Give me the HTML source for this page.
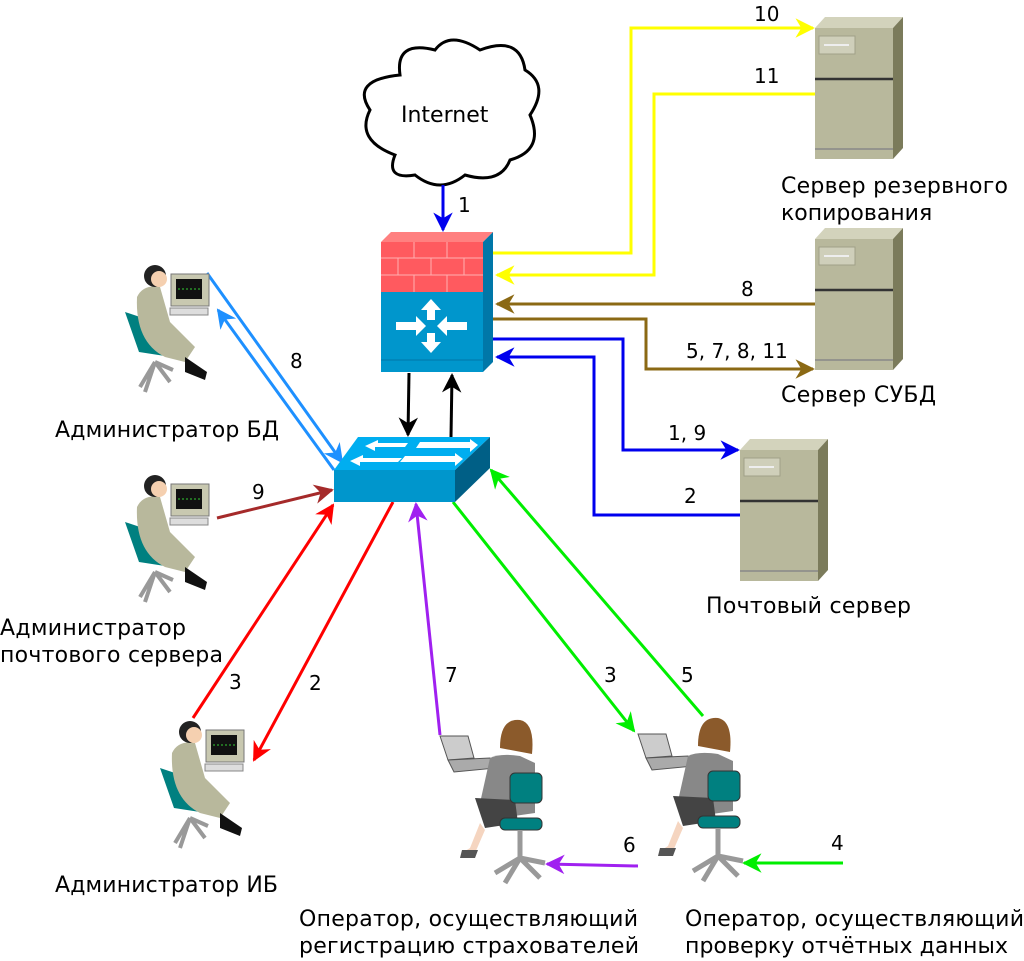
<!DOCTYPE html>
<html><head><meta charset="utf-8"><style>
html,body{margin:0;padding:0;background:#fff}
svg{display:block}
text{font-family:"DejaVu Sans","Liberation Sans",sans-serif;font-size:20px;fill:#000}
text.l{font-size:22px}
</style></head><body>
<svg width="1024" height="961" viewBox="0 0 1024 961" xmlns="http://www.w3.org/2000/svg">
<defs>
<g id="srv">
<polygon points="0,11 10,0 88,0 78,11" fill="#d3d3bc"/>
<polygon points="78,11 88,0 88,131 78,142" fill="#7b7b5b"/>
<rect x="0" y="11" width="78" height="131" fill="#b8b89c"/>
<rect x="4" y="19" width="36" height="18" fill="#cfcfba" stroke="#a0a088"/>
<line x1="9" y1="28" x2="34" y2="28" stroke="#eee" stroke-width="2"/>
<line x1="0" y1="62" x2="78" y2="62" stroke="#333" stroke-width="2.5"/>
<line x1="0" y1="132" x2="78" y2="132" stroke="#888" stroke-width="1.5"/>
</g>
<g id="man">
<polygon points="0,50 14,90 40,94 30,60" fill="#008080"/>
<path d="M30,100 L15,125 M30,100 L45,120 M30,100 L20,130 M30,100 L48,108" stroke="#999" stroke-width="4" fill="none"/>
<path d="M12,35 Q18,22 35,25 L45,60 L60,75 L70,85 L60,100 L40,95 Q10,80 12,35Z" fill="#b8b89c"/>
<circle cx="30" cy="14" r="11" fill="#222"/>
<circle cx="34" cy="17" r="8" fill="#f5d0b0"/>
<rect x="46" y="12" width="38" height="32" fill="#c8c8b0" stroke="#777"/>
<rect x="51" y="17" width="26" height="20" fill="#111"/>
<line x1="53" y1="27" x2="75" y2="27" stroke="#3c3" stroke-dasharray="2,2"/>
<path d="M60,95 L82,110 L80,118 L60,110Z" fill="#111"/>
<rect x="45" y="46" width="38" height="7" fill="#ddd" stroke="#888"/>
</g>
<g id="woman">
<path d="M0,18 L28,18 L34,40 L8,42Z" fill="#ccc" stroke="#555"/>
<polygon points="8,42 50,40 56,50 14,54" fill="#aaa" stroke="#555"/>
<path d="M60,30 Q60,0 80,2 Q95,5 92,36 Z" fill="#8b5a2b"/>
<path d="M50,40 Q60,35 80,38 L95,45 L95,95 L60,100 L40,85 Z" fill="#888"/>
<path d="M35,80 L75,82 L78,105 L45,110Z" fill="#444"/>
<path d="M40,105 L30,130 L22,135 L35,135 L45,112Z" fill="#f5d5c0"/>
<path d="M22,132 L38,132 L35,140 L20,140Z" fill="#555"/>
<rect x="70" y="55" width="32" height="30" rx="5" fill="#008080" stroke="#333"/>
<rect x="60" y="100" width="42" height="12" rx="5" fill="#008080" stroke="#333"/>
<path d="M80,112 L80,140 M80,140 L55,155 M80,140 L100,160 M80,140 L65,165 M80,140 L105,145" stroke="#999" stroke-width="5" fill="none"/>
</g>
<marker id="a" viewBox="0 0 10 10" refX="9" refY="5" markerWidth="6.5" markerHeight="6.5" orient="auto" markerUnits="strokeWidth"><path d="M0,0 L10,5 L0,10 L3,5Z" fill="context-stroke"/></marker>
</defs>

<path d="M400,75 Q395,40 435,50 Q450,30 480,50 Q520,35 525,70 Q550,85 530,115 Q545,150 510,160 Q500,185 465,175 Q440,195 415,175 Q385,180 395,155 Q355,140 370,110 Q350,80 400,75Z" fill="#fff" stroke="#000" stroke-width="3"/>
<text class="l" x="401" y="122">Internet</text>

<g fill="none" stroke-width="3">
<path d="M443,185 L443,230" stroke="#0000ee" marker-end="url(#a)"/>
<path d="M409,373 L408,435" stroke="#000" marker-end="url(#a)"/>
<path d="M451,437 L452,375" stroke="#000" marker-end="url(#a)"/>
<path d="M493,253 L631,253 L631,28 L813,28" stroke="#ffff00" marker-end="url(#a)"/>
<path d="M815,94 L654,94 L654,275 L497,275" stroke="#ffff00" marker-end="url(#a)"/>
<path d="M815,304 L497,304" stroke="#8b6914" marker-end="url(#a)"/>
<path d="M493,319 L646,319 L646,369 L813,369" stroke="#8b6914" marker-end="url(#a)"/>
<path d="M493,339 L623,339 L623,450 L738,450" stroke="#0000ee" marker-end="url(#a)"/>
<path d="M740,515 L594,515 L594,357 L497,357" stroke="#0000ee" marker-end="url(#a)"/>
<path d="M207,273 L342,462" stroke="#1e90ff" marker-end="url(#a)"/>
<path d="M334,470 L218,310" stroke="#1e90ff" marker-end="url(#a)"/>
<path d="M217,518 L332,490" stroke="#a52a2a" marker-end="url(#a)"/>
<path d="M193,718 L333,505" stroke="#ff0000" marker-end="url(#a)"/>
<path d="M393,502 L254,760" stroke="#ff0000" marker-end="url(#a)"/>
<path d="M440,735 L416,504" stroke="#a020f0" marker-end="url(#a)"/>
<path d="M638,866 L547,864" stroke="#a020f0" marker-end="url(#a)"/>
<path d="M453,502 L634,731" stroke="#00ee00" marker-end="url(#a)"/>
<path d="M703,716 L491,470" stroke="#00ee00" marker-end="url(#a)"/>
<path d="M843,863 L744,863" stroke="#00ee00" marker-end="url(#a)"/>
</g>

<polygon points="381,242 391,232 493,232 483,242" fill="#ff8080"/>
<polygon points="483,242 493,232 493,362 483,372" fill="#0077a8"/>
<rect x="381" y="242" width="102" height="50" fill="#ff5a5f"/>
<g stroke="#ffb0b0" stroke-width="1" fill="none">
<path d="M381,258 H483 M381,275 H483 M414,242 V258 M447,242 V258 M398,258 V275 M431,258 V275 M464,258 V275 M414,275 V292 M447,275 V292"/>
</g>
<rect x="381" y="292" width="102" height="80" fill="#0096cc"/>
<line x1="381" y1="360" x2="483" y2="360" stroke="#0077a8"/>
<g fill="#fff">
<polygon points="431,299 441,310 435,310 435,320 427,320 427,310 421,310"/>
<polygon points="431,353 441,342 435,342 435,333 427,333 427,342 421,342"/>
<polygon points="396,322 416,322 416,316 426,326 416,336 416,330 396,330"/>
<polygon points="467,322 447,322 447,316 437,326 447,336 447,330 467,330"/>
</g>

<polygon points="334,470 358,437 490,437 455,470" fill="#00aef0"/>
<polygon points="455,470 490,437 490,468 455,502" fill="#005f86"/>
<rect x="334" y="470" width="121" height="32" fill="#0096cc"/>
<g fill="#fff">
<polygon points="420,442 470,442 470,439 478,445 470,452 470,448 416,448"/>
<polygon points="405,456 455,456 455,453 463,459 455,466 455,462 400,462"/>
<polygon points="405,447 375,447 375,451 365,446 378,440 378,443 408,443"/>
<polygon points="398,462 360,462 360,466 350,461 363,455 363,458 402,458"/>
</g>

<use href="#srv" x="815" y="17"/>
<use href="#srv" x="815" y="228"/>
<use href="#srv" x="740" y="439"/>

<use href="#man" x="125" y="262"/>
<use href="#man" x="125" y="472"/>
<use href="#man" x="160" y="718"/>
<use href="#woman" x="440" y="718"/>
<use href="#woman" x="638" y="716"/>

<text x="458" y="212">1</text>
<text x="754" y="21">10</text>
<text x="754" y="83">11</text>
<text x="741" y="296">8</text>
<text x="686" y="358">5, 7, 8, 11</text>
<text x="668" y="440">1, 9</text>
<text x="684" y="503">2</text>
<text x="290" y="368">8</text>
<text x="252" y="499">9</text>
<text x="229" y="689">3</text>
<text x="309" y="690">2</text>
<text x="445" y="682">7</text>
<text x="604" y="682">3</text>
<text x="681" y="682">5</text>
<text x="623" y="852">6</text>
<text x="831" y="850">4</text>
<text class="l" x="781" y="193" textLength="227">Сервер резервного</text>
<text class="l" x="781" y="220">копирования</text>
<text class="l" x="781" y="402" textLength="155">Сервер СУБД</text>
<text class="l" x="706" y="613" textLength="205">Почтовый сервер</text>
<text class="l" x="55" y="437" textLength="224">Администратор БД</text>
<text class="l" x="0" y="635" textLength="186">Администратор</text>
<text class="l" x="0" y="662" textLength="223">почтового сервера</text>
<text class="l" x="55" y="892" textLength="223">Администратор ИБ</text>
<text class="l" x="299" y="926" textLength="339">Оператор, осуществляющий</text>
<text class="l" x="299" y="953" textLength="340">регистрацию страхователей</text>
<text class="l" x="685" y="926" textLength="339">Оператор, осуществляющий</text>
<text class="l" x="685" y="953" textLength="323">проверку отчётных данных</text>
</svg>
</body></html>
